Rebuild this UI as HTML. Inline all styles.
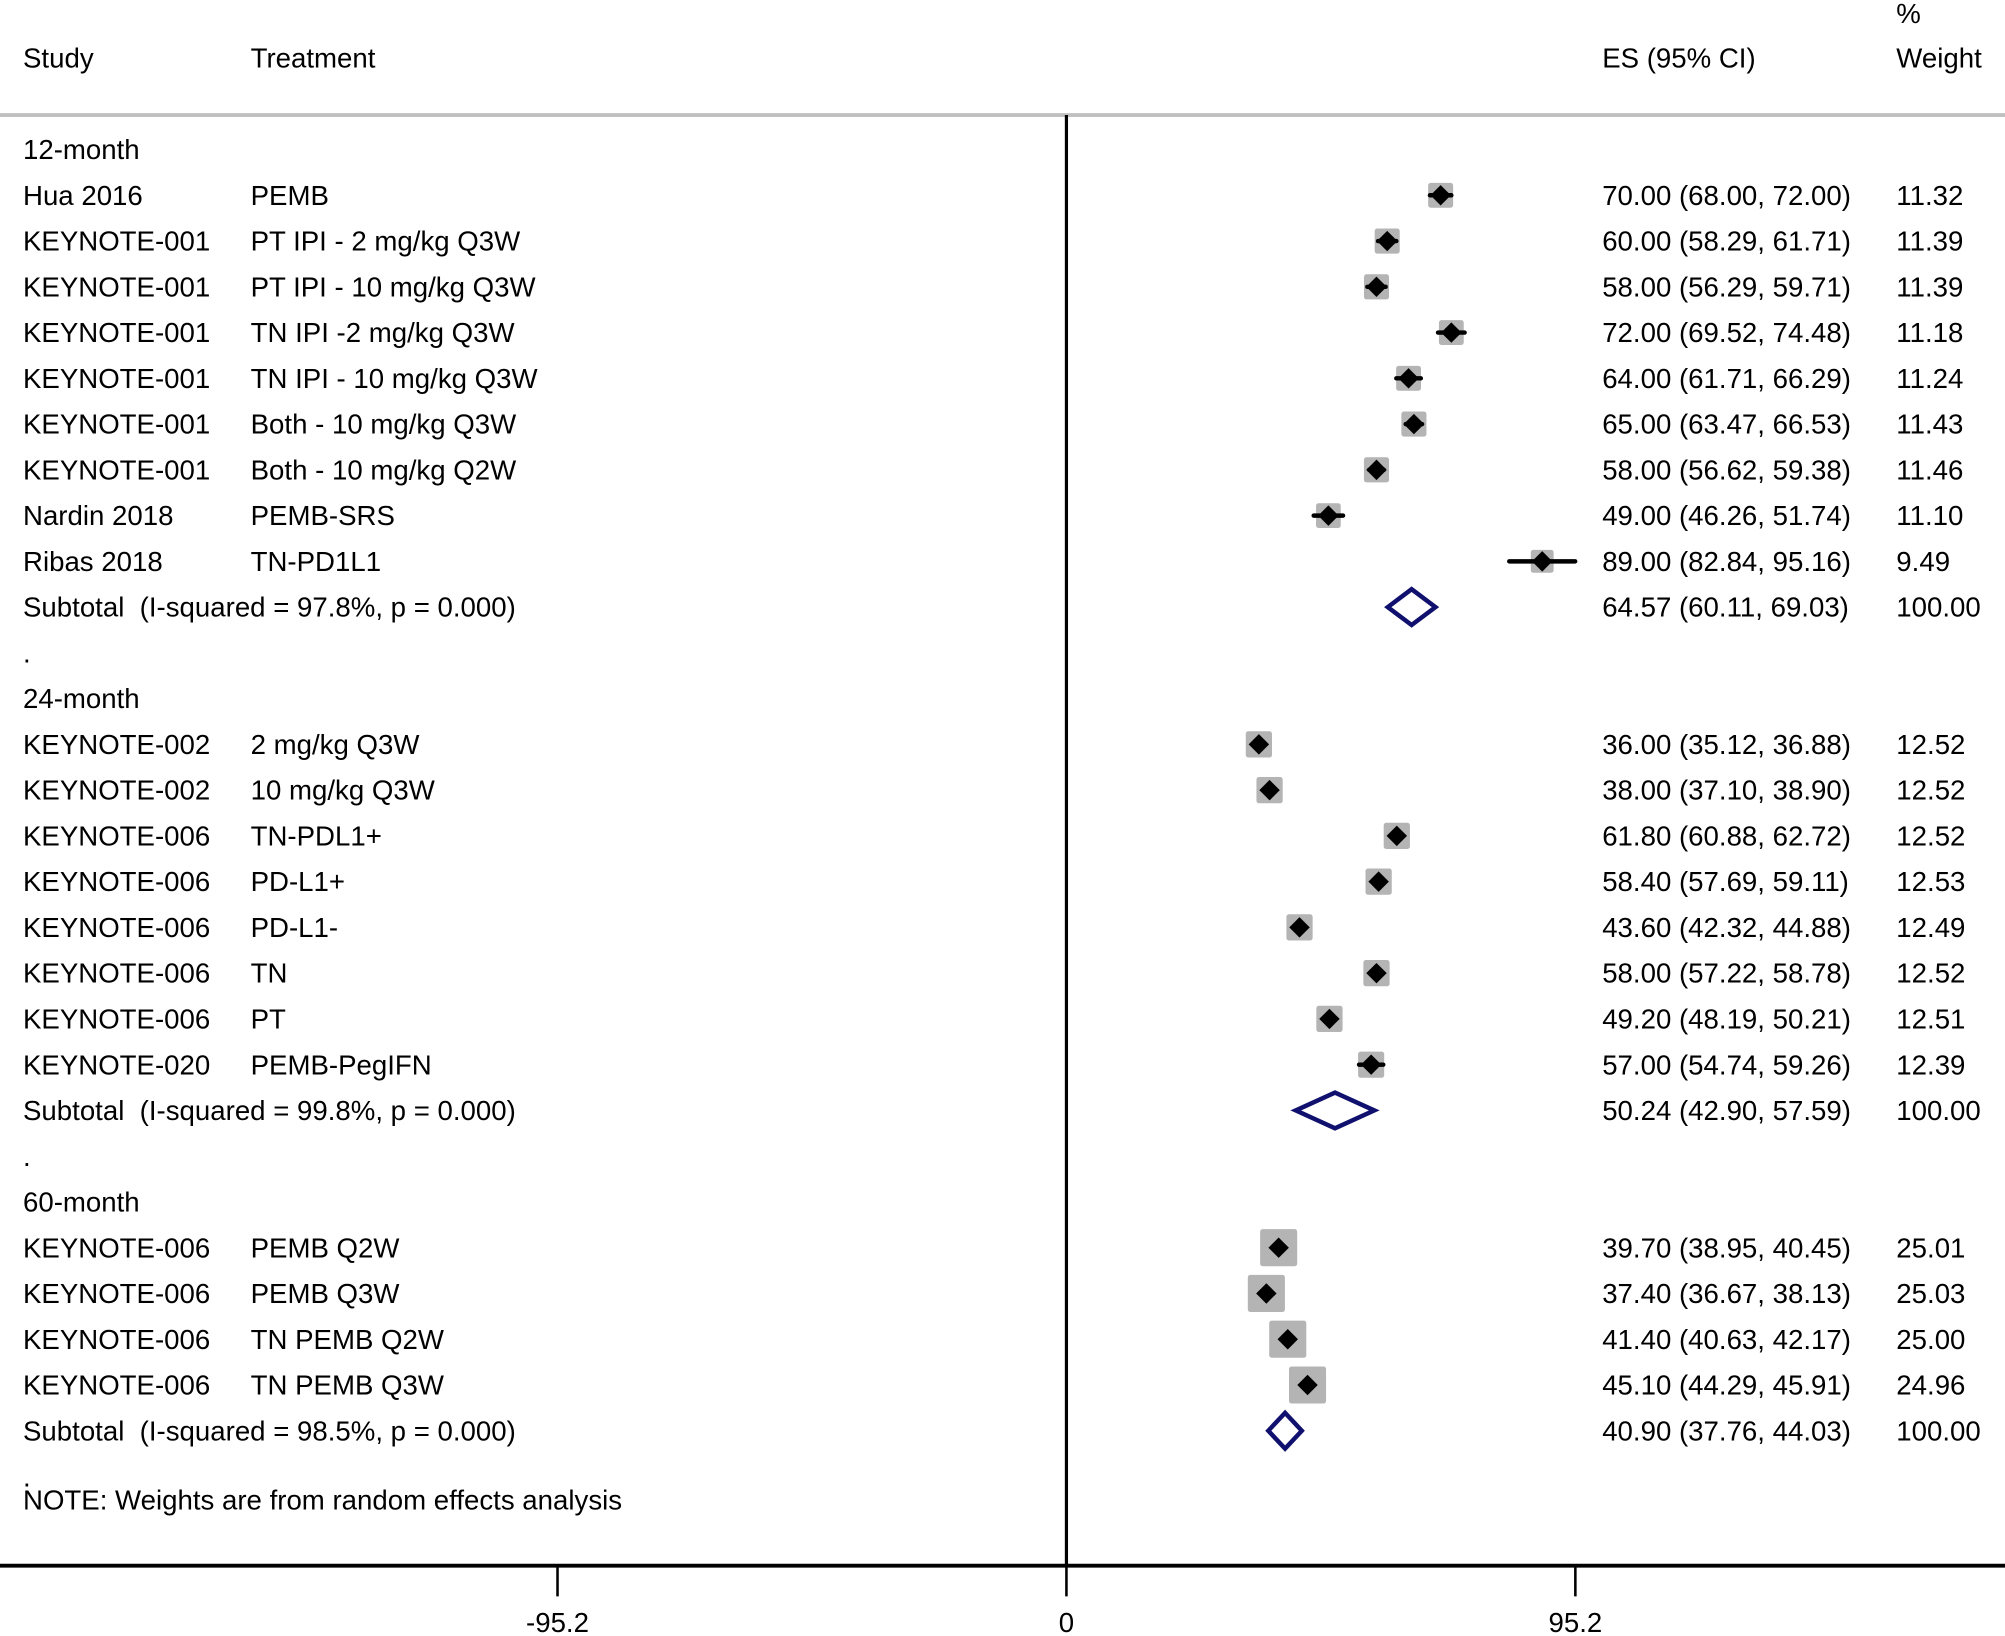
<!DOCTYPE html>
<html><head><meta charset="utf-8"><style>
html,body{margin:0;padding:0;background:#fff;}
svg{display:block;}
text{font-family:"Liberation Sans",sans-serif;font-size:21.6px;fill:#000;white-space:pre;}
</style></head>
<body>
<svg id="chart" width="2005" height="1636" viewBox="0 0 1568 1280" preserveAspectRatio="none" xmlns="http://www.w3.org/2000/svg">
<g id="static">
<text x="1483" y="18">%</text>
<text x="18" y="53">Study</text>
<text x="196" y="53">Treatment</text>
<text x="1253" y="53">ES (95% CI)</text>
<text x="1483" y="53">Weight</text>
<line x1="0" y1="90" x2="1568" y2="90" stroke="#c0c0c0" stroke-width="3"/>
<line x1="0" y1="1225" x2="1568" y2="1225" stroke="#000" stroke-width="3"/>
<text x="18" y="1181">NOTE: Weights are from random effects analysis</text>
<text x="18" y="1163">.</text>
</g>
<g id="marks"></g>
</svg>
<script>
const rowLabels = ["12-month","Hua 2016","KEYNOTE-001","KEYNOTE-001","KEYNOTE-001","KEYNOTE-001","KEYNOTE-001","KEYNOTE-001","Nardin 2018","Ribas 2018","Subtotal  (I-squared = 97.8%, p = 0.000)",".","24-month","KEYNOTE-002","KEYNOTE-002","KEYNOTE-006","KEYNOTE-006","KEYNOTE-006","KEYNOTE-006","KEYNOTE-006","KEYNOTE-020","Subtotal  (I-squared = 99.8%, p = 0.000)",".","60-month","KEYNOTE-006","KEYNOTE-006","KEYNOTE-006","KEYNOTE-006","Subtotal  (I-squared = 98.5%, p = 0.000)"];
const treatments = ["","PEMB","PT IPI - 2 mg/kg Q3W","PT IPI - 10 mg/kg Q3W","TN IPI -2 mg/kg Q3W","TN IPI - 10 mg/kg Q3W","Both - 10 mg/kg Q3W","Both - 10 mg/kg Q2W","PEMB-SRS","TN-PD1L1","","","","2 mg/kg Q3W","10 mg/kg Q3W","TN-PDL1+","PD-L1+","PD-L1-","TN","PT","PEMB-PegIFN","","","","PEMB Q2W","PEMB Q3W","TN PEMB Q2W","TN PEMB Q3W",""];
const rowType = ["h","s","s","s","s","s","s","s","s","s","t","d","h","s","s","s","s","s","s","s","s","t","d","h","s","s","s","s","t"];
const est = [null,70,60,58,72,64,65,58,49,89,64.57,null,null,36,38,61.8,58.4,43.6,58,49.2,57,50.24,null,null,39.7,37.4,41.4,45.1,40.9];
const lower = [null,68,58.29,56.29,69.52,61.71,63.47,56.62,46.26,82.84,60.11,null,null,35.12,37.1,60.88,57.69,42.32,57.22,48.19,54.74,42.9,null,null,38.95,36.67,40.63,44.29,37.76];
const upper = [null,72,61.71,59.71,74.48,66.29,66.53,59.38,51.74,95.16,69.03,null,null,36.88,38.9,62.72,59.11,44.88,58.78,50.21,59.26,57.59,null,null,40.45,38.13,42.17,45.91,44.03];
const weights = [null,11.32,11.39,11.39,11.18,11.24,11.43,11.46,11.10,9.49,100,null,null,12.52,12.52,12.52,12.53,12.49,12.52,12.51,12.39,100,null,null,25.01,25.03,25.00,24.96,100];
const tickVals = [-95.2,0,95.2];
const tickLabels = ["-95.2","0","95.2"];

const NS="http://www.w3.org/2000/svg";
const g=document.getElementById('marks');
const xS=v=>834+v*(398/95.2);
const yS=i=>117+i*35.8;
function mk(tag,attrs){const e=document.createElementNS(NS,tag);for(const k in attrs)e.setAttribute(k,attrs[k]);g.appendChild(e);return e;}

let zl=mk('line',{x1:xS(0),y1:90,x2:xS(0),y2:1225,stroke:'#000','stroke-width':2.5});



tickVals.forEach((v,k)=>{
  const t=mk('line',{x1:xS(v),y1:1225,x2:xS(v),y2:1249,stroke:'#000','stroke-width':2});
  
  
  const l=mk('text',{x:xS(v),y:1277,'text-anchor':'middle'});
  l.textContent=tickLabels[k];
  
  
});

rowLabels.forEach((lab,i)=>{
  const y=yS(i);
  const s=mk('text',{x:18,y:y+7.5});
  s.textContent=lab;
  
  
  if(treatments[i]){
    const t=mk('text',{x:196,y:y+7.5});
    t.textContent=treatments[i];
    
    
  }
  if(est[i]!==null){
    const es=mk('text',{x:1253,y:y+7.5});
    es.textContent=est[i].toFixed(2)+' ('+lower[i].toFixed(2)+', '+upper[i].toFixed(2)+')';
    
    
    const w=mk('text',{x:1483,y:y+7.5});
    w.textContent=weights[i].toFixed(2);
    
    
  }
  if(rowType[i]==='s'){
    const side=5.8*Math.sqrt(weights[i]);
    const b=mk('rect',{x:xS(est[i])-side/2,y:y-side/2,width:side,height:side,fill:'#b4b4b4',rx:2});
    
    
    const c=mk('line',{x1:xS(lower[i]),y1:y,x2:xS(upper[i]),y2:y,stroke:'#000','stroke-width':3.5,'stroke-linecap':'round'});
    
    
    const cx=xS(est[i]);
    const d=mk('polygon',{points:`${cx-8},${y} ${cx},${y-8} ${cx+8},${y} ${cx},${y+8}`,fill:'#000'});
    
    
  } else if(rowType[i]==='t'){
    const l=xS(lower[i]),u=xS(upper[i]),c=xS(est[i]);
    const d=mk('polygon',{points:`${l},${y} ${c},${y-14} ${u},${y} ${c},${y+14}`,fill:'none',stroke:'#10106e','stroke-width':3.5,'stroke-linejoin':'miter'});
    
    
  }
});
</script>
</body></html>
